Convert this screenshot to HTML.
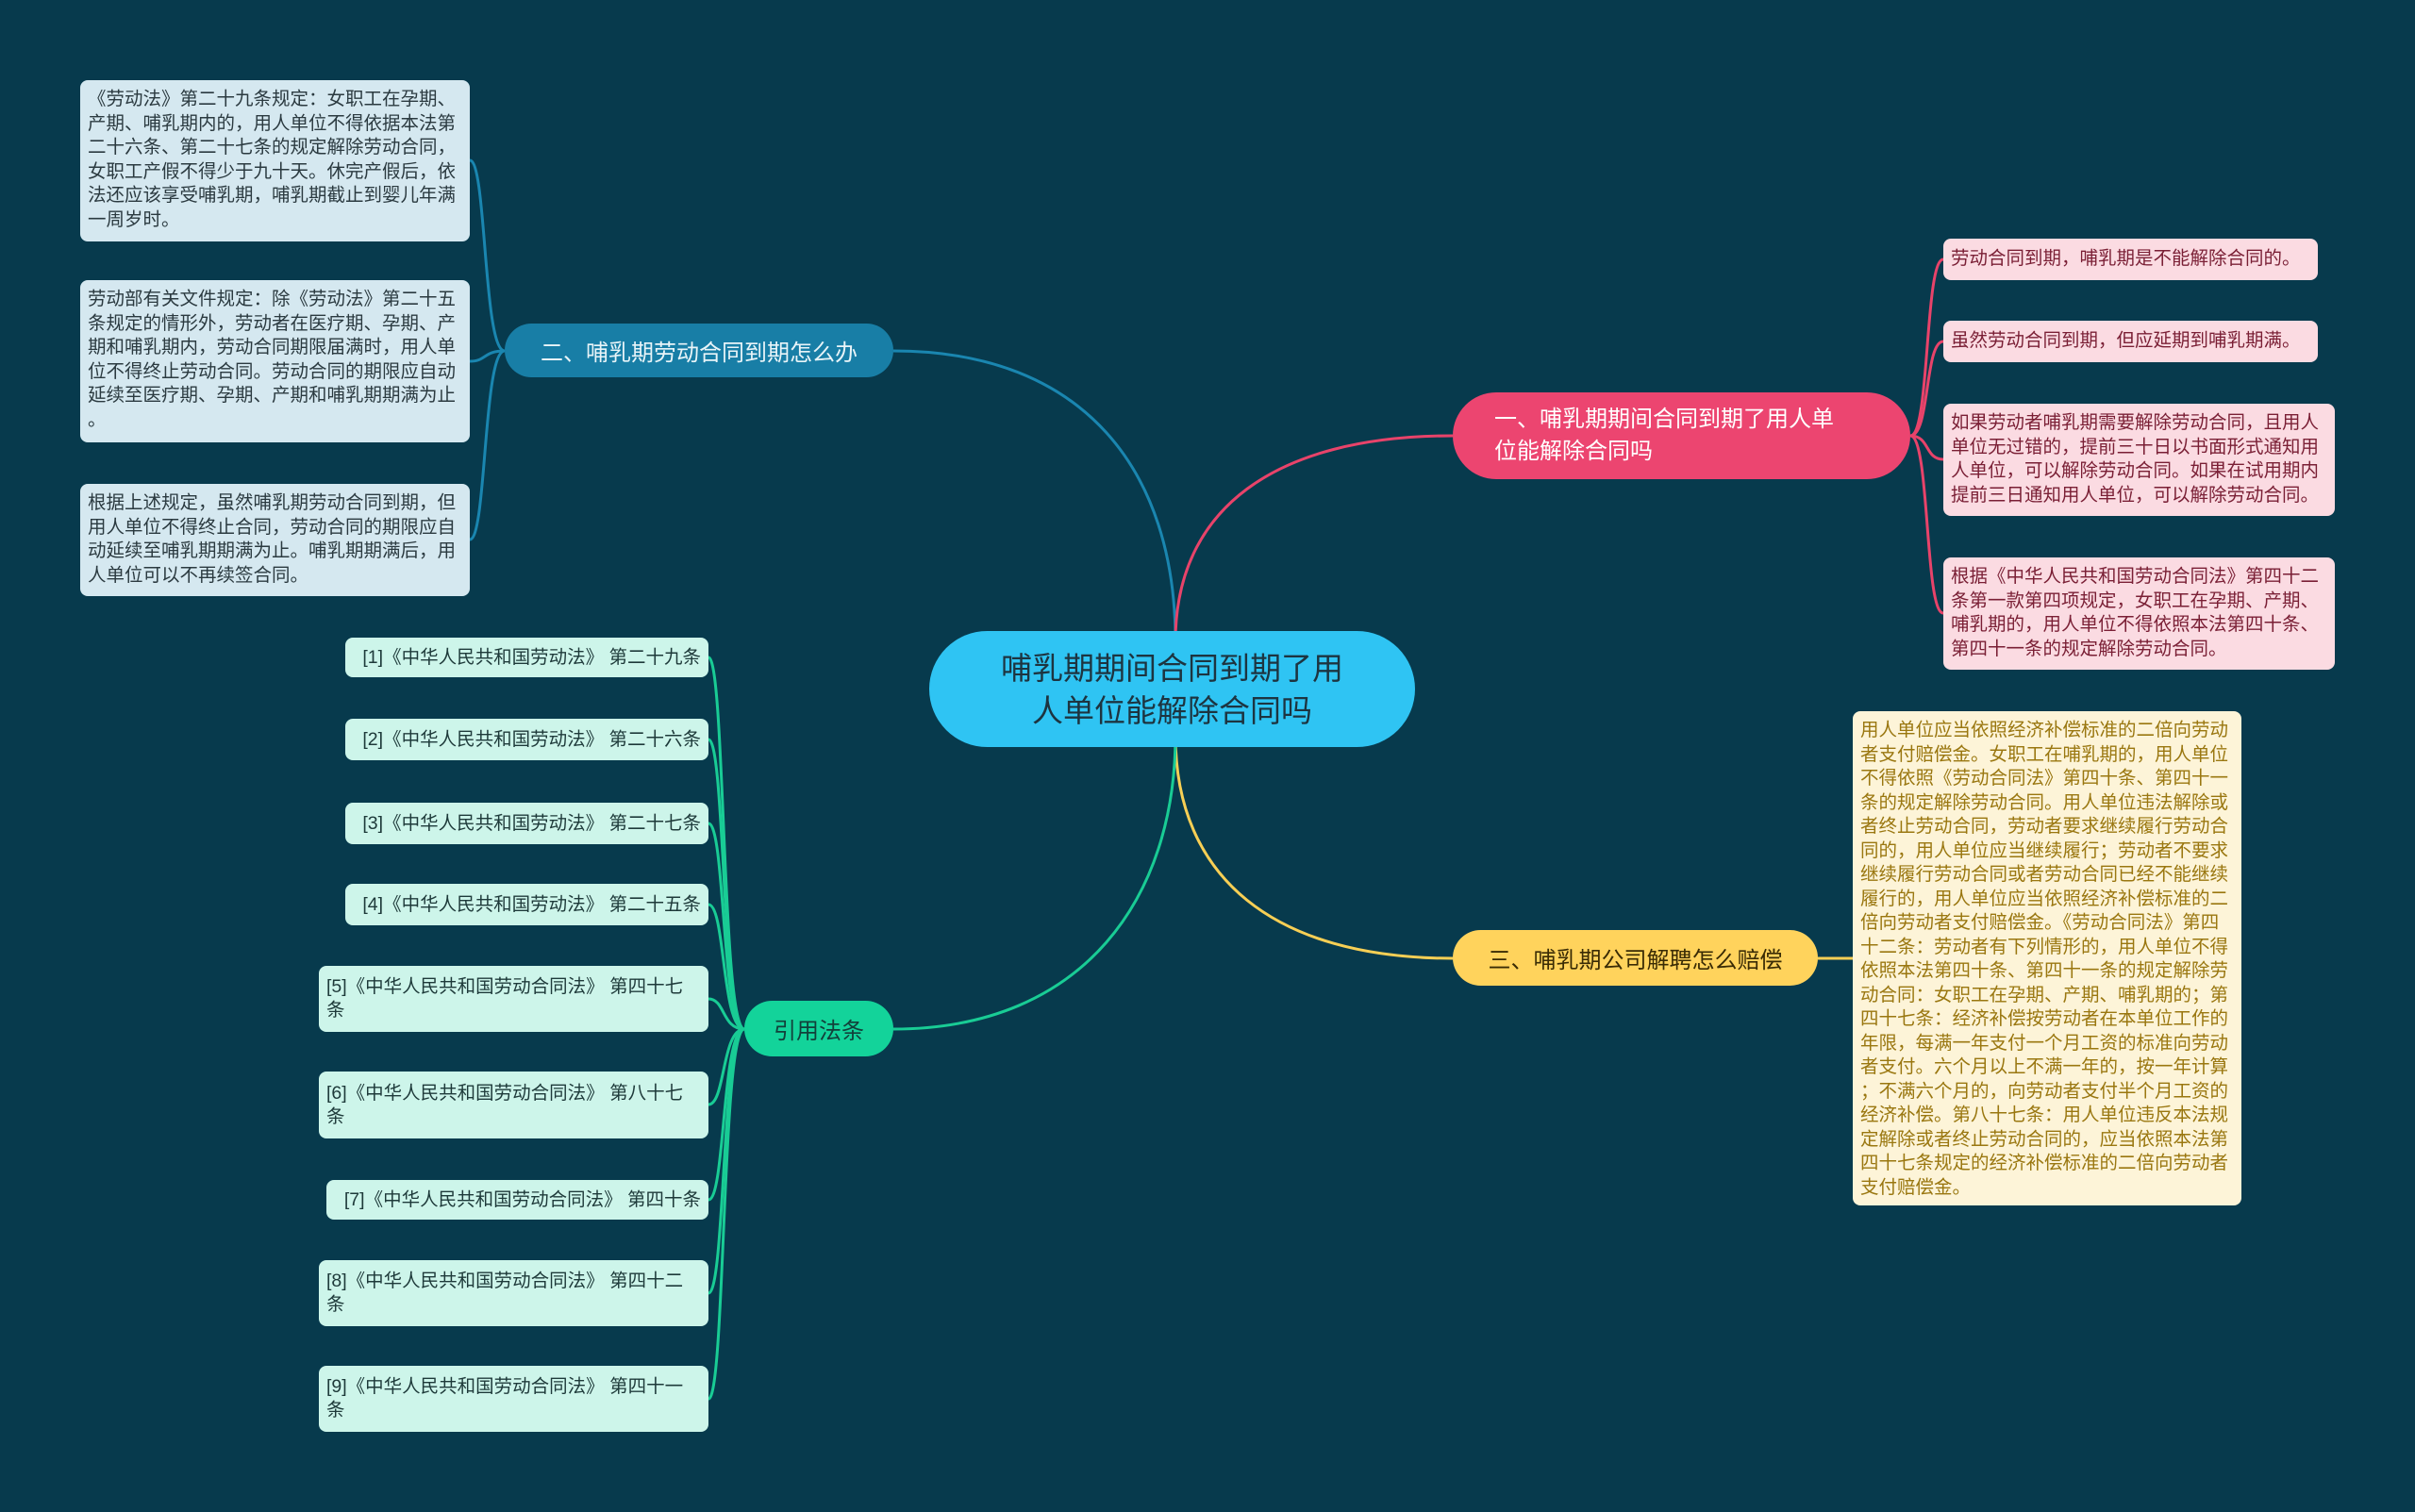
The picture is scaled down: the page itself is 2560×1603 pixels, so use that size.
<!DOCTYPE html>
<html><head><meta charset="utf-8">
<style>
*{margin:0;padding:0;box-sizing:border-box}
body{width:2560px;height:1603px;background:#073a4d;position:relative;overflow:hidden;font-family:"Liberation Sans","Noto Sans CJK SC",sans-serif}
.n{position:absolute;display:flex;align-items:center}
.box{position:absolute;border-radius:8px;padding:8px 8px;font-size:19.5px;line-height:25.5px}
.lb{background:#d5e8f0;color:#2b3a40}
.pk{background:#fbdbe2;color:#7a1f35}
.yl{background:#fdf4d8;color:#9a7710}
.cit{position:absolute;background:#cdf5ea;color:#1e3a3a;border-radius:8px;font-size:19.5px;line-height:25px;padding:0 8px;display:flex;align-items:center}
.nw{white-space:nowrap;justify-content:flex-end}
</style></head><body>
<svg width="2560" height="1603" style="position:absolute;left:0;top:0" fill="none" stroke-width="3">
<path d="M1246 680 C1246 500 1150 372 947 372" stroke="#1a86b0"/>
<path d="M1246 680 C1246 540 1350 462 1540 462" stroke="#e8436a"/>
<path d="M1246 780 C1246 930 1350 1016 1540 1016" stroke="#f7cf55"/>
<path d="M1246 780 C1246 950 1150 1091 947 1091" stroke="#19cc95"/>
<g stroke="#1a86b0">
<path d="M535 372 C512 372 516 170 498 170"/>
<path d="M535 372 C512 372 516 383 498 383"/>
<path d="M535 372 C512 372 516 572 498 572"/>
</g>
<g stroke="#e8436a">
<path d="M2025 462 C2046 462 2040 275 2060 275"/>
<path d="M2025 462 C2046 462 2040 362 2060 362"/>
<path d="M2025 462 C2046 462 2040 487 2060 487"/>
<path d="M2025 462 C2046 462 2040 650 2060 650"/>
</g>
<path d="M1927 1016 L1964 1016" stroke="#f7cf55"/>
<g stroke="#19cc95">
<path d="M789 1091 C765 1091 769 697 751 697"/>
<path d="M789 1091 C765 1091 769 784 751 784"/>
<path d="M789 1091 C765 1091 769 873 751 873"/>
<path d="M789 1091 C765 1091 769 959 751 959"/>
<path d="M789 1091 C765 1091 769 1059 751 1059"/>
<path d="M789 1091 C765 1091 769 1171 751 1171"/>
<path d="M789 1091 C765 1091 769 1272 751 1272"/>
<path d="M789 1091 C765 1091 769 1371 751 1371"/>
<path d="M789 1091 C765 1091 769 1483 751 1483"/>
</g>
</svg>

<div class="n" style="left:985px;top:669px;width:515px;height:123px;background:#2fc4f3;border-radius:62px;justify-content:center;text-align:center;color:#1d3440;font-size:33px;line-height:45px">哺乳期期间合同到期了用<br>人单位能解除合同吗</div>
<div class="n" style="left:1540px;top:416px;width:485px;height:92px;background:#ec4570;border-radius:46px;color:#fff;font-size:24px;line-height:34px;padding-left:44px">一、哺乳期期间合同到期了用人单<br>位能解除合同吗</div>
<div class="n" style="left:535px;top:343px;width:412px;height:57px;background:#187ea6;border-radius:29px;color:#e8f4f8;font-size:24px;justify-content:center">二、哺乳期劳动合同到期怎么办</div>
<div class="n" style="left:1540px;top:986px;width:387px;height:59px;background:#ffd35c;border-radius:30px;color:#3a2c05;font-size:24px;justify-content:center">三、哺乳期公司解聘怎么赔偿</div>
<div class="n" style="left:789px;top:1061px;width:158px;height:59px;background:#13d39a;border-radius:30px;color:#12403a;font-size:24px;justify-content:center">引用法条</div>

<div class="box lb" style="left:85px;top:85px;width:413px;height:171px">《劳动法》第二十九条规定：女职工在孕期、产期、哺乳期内的，用人单位不得依据本法第二十六条、第二十七条的规定解除劳动合同，女职工产假不得少于九十天。休完产假后，依法还应该享受哺乳期，哺乳期截止到婴儿年满一周岁时。</div>
<div class="box lb" style="left:85px;top:297px;width:413px;height:172px">劳动部有关文件规定：除《劳动法》第二十五条规定的情形外，劳动者在医疗期、孕期、产期和哺乳期内，劳动合同期限届满时，用人单位不得终止劳动合同。劳动合同的期限应自动延续至医疗期、孕期、产期和哺乳期期满为止<br>。</div>
<div class="box lb" style="left:85px;top:513px;width:413px;height:119px">根据上述规定，虽然哺乳期劳动合同到期，但用人单位不得终止合同，劳动合同的期限应自动延续至哺乳期期满为止。哺乳期期满后，用人单位可以不再续签合同。</div>

<div class="box pk" style="left:2060px;top:253px;width:397px;height:44px;padding-top:9px">劳动合同到期，哺乳期是不能解除合同的。</div>
<div class="box pk" style="left:2060px;top:340px;width:397px;height:44px;padding-top:9px">虽然劳动合同到期，但应延期到哺乳期满。</div>
<div class="box pk" style="left:2060px;top:428px;width:415px;height:119px;padding-top:8px">如果劳动者哺乳期需要解除劳动合同，且用人单位无过错的，提前三十日以书面形式通知用人单位，可以解除劳动合同。如果在试用期内提前三日通知用人单位，可以解除劳动合同。</div>
<div class="box pk" style="left:2060px;top:591px;width:415px;height:119px;padding-top:8px">根据《中华人民共和国劳动合同法》第四十二条第一款第四项规定，女职工在孕期、产期、哺乳期的，用人单位不得依照本法第四十条、第四十一条的规定解除劳动合同。</div>

<div class="box yl" style="left:1964px;top:754px;width:412px;height:524px;padding-top:8px">用人单位应当依照经济补偿标准的二倍向劳动者支付赔偿金。女职工在哺乳期的，用人单位不得依照《劳动合同法》第四十条、第四十一条的规定解除劳动合同。用人单位违法解除或者终止劳动合同，劳动者要求继续履行劳动合同的，用人单位应当继续履行；劳动者不要求继续履行劳动合同或者劳动合同已经不能继续履行的，用人单位应当依照经济补偿标准的二倍向劳动者支付赔偿金。《劳动合同法》第四十二条：劳动者有下列情形的，用人单位不得依照本法第四十条、第四十一条的规定解除劳动合同：女职工在孕期、产期、哺乳期的；第四十七条：经济补偿按劳动者在本单位工作的年限，每满一年支付一个月工资的标准向劳动者支付。六个月以上不满一年的，按一年计算<br>；不满六个月的，向劳动者支付半个月工资的经济补偿。第八十七条：用人单位违反本法规定解除或者终止劳动合同的，应当依照本法第四十七条规定的经济补偿标准的二倍向劳动者支付赔偿金。</div>

<div class="cit nw" style="left:366px;top:676px;width:385px;height:42px">[1]《中华人民共和国劳动法》 第二十九条</div>
<div class="cit nw" style="left:366px;top:762px;width:385px;height:44px">[2]《中华人民共和国劳动法》 第二十六条</div>
<div class="cit nw" style="left:366px;top:851px;width:385px;height:44px">[3]《中华人民共和国劳动法》 第二十七条</div>
<div class="cit nw" style="left:366px;top:937px;width:385px;height:44px">[4]《中华人民共和国劳动法》 第二十五条</div>
<div class="cit" style="left:338px;top:1024px;width:413px;height:70px">[5]《中华人民共和国劳动合同法》 第四十七<br>条</div>
<div class="cit" style="left:338px;top:1136px;width:413px;height:71px">[6]《中华人民共和国劳动合同法》 第八十七<br>条</div>
<div class="cit nw" style="left:346px;top:1251px;width:405px;height:42px">[7]《中华人民共和国劳动合同法》 第四十条</div>
<div class="cit" style="left:338px;top:1336px;width:413px;height:70px">[8]《中华人民共和国劳动合同法》 第四十二<br>条</div>
<div class="cit" style="left:338px;top:1448px;width:413px;height:70px">[9]《中华人民共和国劳动合同法》 第四十一<br>条</div>
</body></html>
